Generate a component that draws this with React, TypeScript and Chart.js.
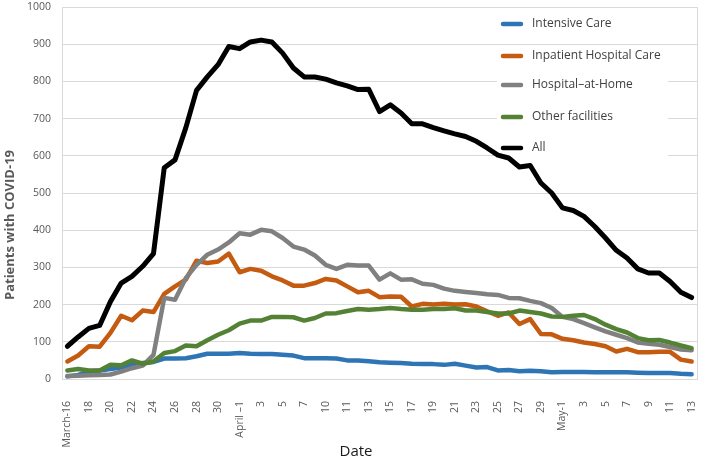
import React, { useEffect, useRef } from 'react';
import { Chart, registerables } from 'chart.js';

Chart.register(...registerables);

const categories = [
  'March 16', 'March 17', 'March 18', 'March 19', 'March 20', 'March 21', 'March 22', 'March 23',
  'March 24', 'March 25', 'March 26', 'March 27', 'March 28', 'March 29', 'March 30', 'March 31',
  'April 1', 'April 2', 'April 3', 'April 4', 'April 5', 'April 6', 'April 7', 'April 8', 'April 9',
  'April 10', 'April 11', 'April 12', 'April 13', 'April 14', 'April 15', 'April 16', 'April 17',
  'April 18', 'April 19', 'April 20', 'April 21', 'April 22', 'April 23', 'April 24', 'April 25',
  'April 26', 'April 27', 'April 28', 'April 29', 'April 30',
  'May 1', 'May 2', 'May 3', 'May 4', 'May 5', 'May 6', 'May 7', 'May 8', 'May 9', 'May 10',
  'May 11', 'May 12', 'May 13',
];

// Tick labels shown on every second category (as printed in the original)
const tickLabels = [
  'March-16', '18', '20', '22', '24', '26', '28', '30',
  'April \u20131', '3', '5', '7', '10', '11', '13', '15', '17', '19', '21', '23', '25', '27', '29',
  'May-1', '3', '5', '7', '9', '11', '13',
];

const yTicks = [0, 100, 200, 300, 400, 500, 600, 700, 800, 900, 1000];

const intensiveCare = [
  7, 11, 20, 23, 27, 31, 38, 43, 46, 55,
  55, 56, 61, 68, 68, 68, 70, 68, 67, 67,
  65, 63, 56, 56, 56, 55, 50, 50, 48, 45,
  44, 43, 41, 40, 40, 38, 41, 36, 31, 32,
  23, 24, 21, 22, 21, 18, 19, 19, 19, 18,
  18, 18, 18, 17, 16, 16, 16, 14, 13,
];

const inpatientCare = [
  47, 63, 88, 87, 124, 170, 158, 184, 180, 229,
  249, 267, 318, 312, 316, 337, 287, 296, 291, 276,
  265, 251, 251, 258, 269, 265, 249, 233, 237, 220,
  222, 221, 195, 202, 200, 202, 200, 201, 195, 182,
  170, 179, 148, 161, 121, 120, 108, 104, 98, 94,
  88, 74, 81, 72, 72, 73, 73, 52, 47,
];

const hospitalAtHome = [
  8, 9, 10, 11, 12, 20, 29, 36, 65, 218,
  213, 271, 307, 334, 348, 367, 392, 388, 401, 397,
  379, 356, 348, 332, 307, 296, 307, 305, 305, 267,
  284, 267, 268, 256, 253, 243, 237, 234, 231, 228,
  226, 218, 217, 210, 204, 191, 167, 161, 150, 139,
  128, 119, 110, 98, 95, 92, 86, 79, 77,
];

const otherFacilities = [
  23, 27, 23, 23, 38, 37, 50, 41, 47, 70,
  75, 90, 88, 104, 119, 131, 149, 157, 157, 167,
  167, 166, 157, 164, 176, 177, 183, 188, 186, 188,
  191, 188, 186, 186, 188, 188, 190, 184, 184, 180,
  176, 176, 184, 180, 176, 168, 167, 170, 172, 161,
  146, 134, 125, 110, 104, 105, 98, 90, 83,
];

const allPatients = [
  88, 113, 136, 144, 208, 258, 276, 303, 337, 568,
  589, 675, 776, 812, 845, 894, 888, 906, 911, 906,
  876, 836, 812, 812, 806, 796, 788, 778, 779, 719,
  737, 715, 686, 686, 676, 667, 659, 652, 639, 621,
  602, 594, 570, 574, 527, 500, 460, 453, 437, 410,
  379, 346, 325, 296, 285, 285, 262, 233, 219,
];

const seriesNames = ['Intensive Care', 'Inpatient Hospital Care', 'Hospital\u2013at-Home', 'Other facilities', 'All'];
const seriesColors = ['#2E75B6', '#C55A11', '#808080', '#548235', '#000000'];
const yTitle = 'Patients with COVID-19';
const xTitle = 'Date';

const FONT = "'Open Sans', 'DejaVu Sans', sans-serif";

const decorPlugin = {
  id: 'decor',
  beforeDatasetsDraw(chart: any) {
    const { ctx, chartArea: a } = chart;
    ctx.save();
    ctx.strokeStyle = '#d9d9d9';
    ctx.lineWidth = 1;
    ctx.beginPath();
    ctx.moveTo(Math.round(a.right) + 0.5, a.top);
    ctx.lineTo(Math.round(a.right) + 0.5, a.bottom);
    ctx.stroke();
    // white backing behind legend entries
    ctx.fillStyle = '#ffffff';
    ctx.fillRect(a.right - 200, a.top + 60, 171, 98);
    ctx.restore();
  },
  afterDatasetsDraw(chart: any) {
    const { ctx, chartArea: a } = chart;
    ctx.save();
    const rows = [17, 49, 78, 110, 141];
    const lx = a.right - 196;
    chart.data.datasets.forEach((ds: any, i: number) => {
      const y = a.top + rows[i];
      ctx.strokeStyle = ds.borderColor;
      ctx.lineWidth = 4.5;
      ctx.lineCap = 'round';
      ctx.beginPath();
      ctx.moveTo(lx + 2, y);
      ctx.lineTo(lx + 20, y);
      ctx.stroke();
      ctx.fillStyle = '#404040';
      ctx.font = `12px ${FONT}`;
      ctx.textBaseline = 'middle';
      ctx.textAlign = 'left';
      ctx.fillText(ds.label, lx + 31, y);
    });
    // axis titles
    ctx.fillStyle = '#595959';
    ctx.font = `bold 13px ${FONT}`;
    ctx.textAlign = 'center';
    ctx.textBaseline = 'middle';
    ctx.translate(10, 225);
    ctx.rotate(-Math.PI / 2);
    ctx.fillText(yTitle, 0, 0);
    ctx.setTransform(1, 0, 0, 1, 0, 0);
    ctx.fillStyle = '#1a1a1a';
    ctx.font = `15px ${FONT}`;
    ctx.fillText(xTitle, 356, 452);
    ctx.restore();
  },
};

export default function App() {
  const ref = useRef<HTMLCanvasElement>(null);
  useEffect(() => {
    const series = [intensiveCare, inpatientCare, hospitalAtHome, otherFacilities, allPatients];
    const chart = new Chart(ref.current as HTMLCanvasElement, {
      type: 'line',
      data: {
        labels: categories,
        datasets: series.map((d, i) => ({
          label: seriesNames[i],
          data: d,
          borderColor: seriesColors[i],
          backgroundColor: seriesColors[i],
          borderWidth: i === 4 ? 5 : 4.5,
          pointRadius: 0,
          tension: 0,
          borderJoinStyle: 'round' as const,
          borderCapStyle: 'round' as const,
          order: 5 - i,
        })),
      },
      options: {
        animation: false,
        responsive: false,
        devicePixelRatio: 1,
        layout: { padding: { left: 0, right: 17, top: 7, bottom: 0 } },
        plugins: { legend: { display: false }, tooltip: { enabled: false } },
        scales: {
          x: {
            offset: true,
            grid: { display: false, drawTicks: false },
            border: { display: true, color: '#d9d9d9' },
            ticks: {
              autoSkip: false,
              minRotation: 90,
              maxRotation: 90,
              padding: 22,
              color: '#595959',
              font: { family: FONT, size: 10.5 },
              callback: (_v: any, index: number) => (index % 2 === 0 ? tickLabels[index / 2] : ''),
            },
            afterFit: (s: any) => {
              s.height = 86;
              s.paddingLeft = 0;
              s.paddingRight = 0;
            },
          },
          y: {
            min: 0,
            max: 1000,
            afterBuildTicks: (s: any) => { s.ticks = yTicks.map((v) => ({ value: v })); },
            grid: { color: '#d9d9d9', drawTicks: false },
            border: { display: true, color: '#d9d9d9' },
            ticks: {
              padding: 11,
              color: '#595959',
              font: { family: FONT, size: 10.5 },
              callback: (v: any) => String(v),
            },
            afterFit: (s: any) => {
              s.width = 62;
              s.paddingTop = 0;
              s.paddingBottom = 0;
            },
          },
        },
      },
      plugins: [decorPlugin],
    });
    return () => chart.destroy();
  }, []);
  return (
    <div style={{ position: 'absolute', left: 0, top: 0, width: 714, height: 465, background: '#fff' }}>
      <canvas ref={ref} width={714} height={465} style={{ display: 'block' }} />
    </div>
  );
}
